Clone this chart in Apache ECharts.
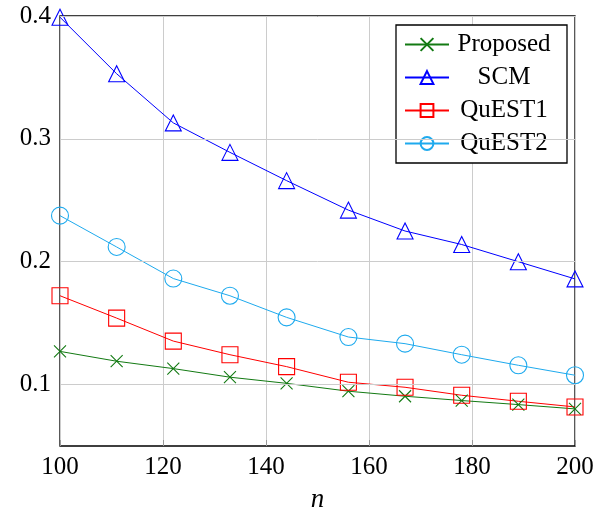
<!DOCTYPE html>
<html><head><meta charset="utf-8">
<script src="https://cdn.jsdelivr.net/npm/echarts@6/dist/echarts.min.js"></script>
<style>html,body{margin:0;padding:0;background:#fff}#c{width:611px;height:512px}</style>
</head><body><div id="c"></div>
<script>
const nValues = [100, 111, 122, 133, 144, 156, 167, 178, 189, 200];
const proposed = [0.127, 0.119, 0.113, 0.106, 0.101, 0.0946, 0.0905, 0.087, 0.0837, 0.0802];
const scm = [0.399, 0.353, 0.313, 0.289, 0.266, 0.242, 0.225, 0.214, 0.2, 0.186];
const quest1 = [0.1723, 0.1541, 0.1354, 0.1243, 0.1146, 0.1019, 0.0978, 0.0913, 0.0864, 0.0818];
const quest2 = [0.2375, 0.212, 0.1863, 0.1723, 0.1547, 0.1387, 0.1333, 0.1243, 0.1157, 0.1076];
const xTicks = [100, 120, 140, 160, 180, 200];
const yTicks = [0.1, 0.2, 0.3, 0.4];

const FONT = 'Liberation Serif';
const pairs = ys => nValues.map((x, i) => [x, ys[i]]);
const crossPath = 'path://M0,0L10,10M10,0L0,10';

function mk(name, ys, color, symbol, size) {
  return {
    name, type: 'line', data: pairs(ys),
    symbol, symbolSize: size, showAllSymbol: true,
    lineStyle: { color, width: 1 },
    itemStyle: { color: 'rgba(0,0,0,0)', borderColor: color, borderWidth: 1.1 },
    emphasis: { disabled: true },
    animation: false
  };
}
const tickRich = { t: { fontFamily: FONT, fontSize: 25, color: '#000' } };

const chart = echarts.init(document.getElementById('c'), null, { renderer: 'canvas' });
chart.setOption({
  animation: false,
  backgroundColor: '#fff',
  textStyle: { fontFamily: FONT },
  grid: { left: 60, right: 36, top: 16, bottom: 66, outerBoundsMode: 'none', containLabel: false,
    show: true, borderColor: '#000', borderWidth: 1.3, backgroundColor: 'transparent' },
  xAxis: {
    type: 'value', min: 100, max: 200, interval: 20,
    name: '{n|n}', nameLocation: 'middle', nameGap: 40,
    nameTextStyle: { rich: { n: { fontFamily: FONT, fontStyle: 'italic', fontSize: 27, color: '#000' } } },
    axisLine: { show: false },
    axisTick: { show: true, inside: true, length: 6, lineStyle: { color: '#999' } },
    axisLabel: { margin: 9, customValues: xTicks, formatter: v => '{t|' + v + '}', rich: tickRich },
    splitLine: { show: true, lineStyle: { color: '#cccccc', width: 1 } }
  },
  yAxis: {
    type: 'value', min: 0.05, max: 0.4,
    axisLine: { show: false },
    axisTick: { show: true, inside: true, length: 6, lineStyle: { color: '#999' }, customValues: yTicks },
    axisLabel: { margin: 9, customValues: yTicks, formatter: v => '{t|' + v.toFixed(1) + '}', rich: tickRich },
    splitLine: { show: false }
  },
  legend: {
    orient: 'vertical', left: 396, top: 25,
    padding: [7, 13, 7, 8], itemGap: 8,
    itemWidth: 44, itemHeight: 16,
    backgroundColor: '#fff', borderColor: '#000', borderWidth: 1.3,
    formatter: name => '{c|' + name + '}',
    textStyle: { rich: { c: { fontFamily: FONT, fontSize: 25, color: '#000', width: 100, align: 'center', lineHeight: 26 } } },
    data: ['Proposed', 'SCM', 'QuEST1', 'QuEST2']
  },
  series: [
    { type: 'line', data: [], markLine: { silent: true, symbol: 'none', label: { show: false },
        lineStyle: { color: '#cccccc', width: 1, type: 'solid' },
        data: yTicks.map(v => ({ yAxis: v })) } },
    mk('Proposed', proposed, '#137a13', crossPath, 12),
    mk('SCM', scm, '#0000ff', 'triangle', 16),
    mk('QuEST1', quest1, '#ff0000', 'rect', 16),
    mk('QuEST2', quest2, '#1eaaee', 'circle', 17)
  ]
});
</script></body></html>
